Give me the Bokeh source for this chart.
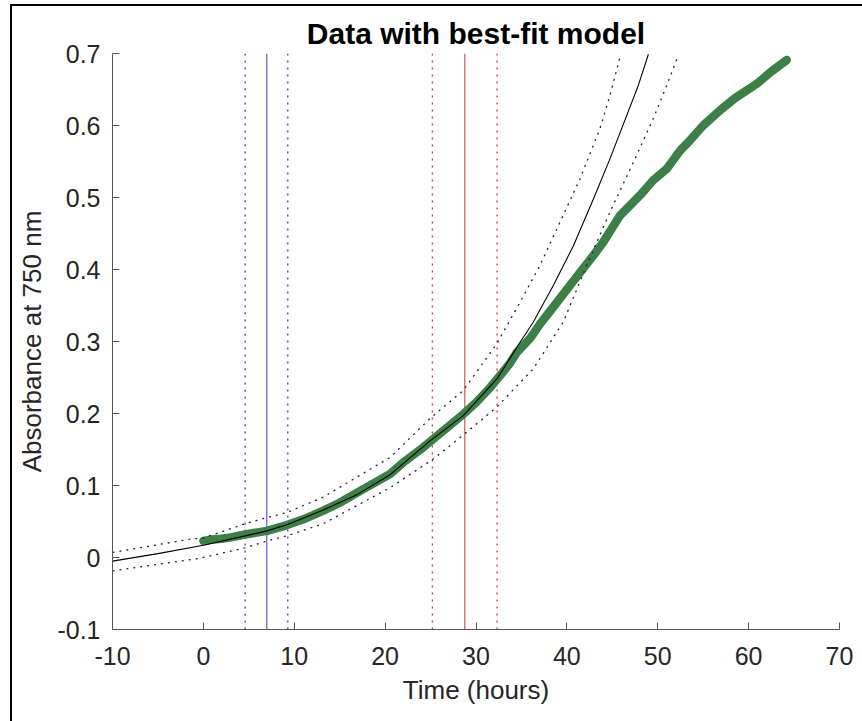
from bokeh.plotting import figure
from bokeh.models import FixedTicker, Range1d
from bokeh.embed import file_html
from bokeh.resources import INLINE

# ---- data ----
data_t = [0, 1, 2, 3, 4.6, 7, 9.2, 11, 13.2, 15, 17.6, 20.55, 22, 24.2, 26, 28.6, 30,
          31.55, 33, 33.75, 34.5, 36, 37.05, 38.15, 40.35, 42.92, 44, 45.85, 48.05,
          49.5, 51, 52.45, 53.37, 55, 56.85, 58.5, 60.9, 62.5, 64.2]
data_abs = [0.023, 0.025, 0.026, 0.028, 0.032, 0.037, 0.045, 0.053, 0.065, 0.076, 0.095,
            0.116, 0.132, 0.153, 0.172, 0.199, 0.215, 0.236, 0.258, 0.27, 0.285, 0.305,
            0.3245, 0.342, 0.378, 0.4195, 0.438, 0.475, 0.503, 0.524, 0.54, 0.565, 0.577,
            0.6, 0.621, 0.638, 0.658, 0.675, 0.691]

model_t = [-10, -5, 0, 4.6, 7, 9.2, 13.2, 17, 20.55, 24.95, 28.6, 32.3, 34.85, 36.31,
           38.52, 40.72, 42.92, 44.75, 46.59, 47.87, 48.97]
model_abs = [-0.005, 0.0054, 0.017, 0.030, 0.037, 0.0455, 0.066, 0.088, 0.115, 0.162,
             0.197, 0.248, 0.299, 0.327, 0.378, 0.433, 0.498, 0.554, 0.614, 0.656, 0.699]

upper_t = [-10, -1.45, 0, 4.6, 7, 9.2, 13.2, 20.55, 25.1, 28.6, 32.3, 35.04, 37.05,
           39.25, 41.45, 43.65, 44.75, 45.85]
upper_abs = [0.007, 0.0255, 0.027, 0.047, 0.0555, 0.0625, 0.084, 0.139, 0.195, 0.232,
             0.297, 0.359, 0.406, 0.466, 0.526, 0.596, 0.642, 0.695]

lower_t = [-10, -0.35, 4.6, 7, 9.2, 13.2, 20.55, 25.1, 28.6, 32.3, 34.85, 36.3, 39.6,
           42.19, 44.75, 47.32, 49.52, 51.0, 52.27]
lower_abs = [-0.0186, -0.001, 0.0135, 0.023, 0.030, 0.047, 0.097, 0.135, 0.17, 0.209,
             0.243, 0.262, 0.327, 0.406, 0.48, 0.549, 0.61, 0.656, 0.698]

blue_solid = [6.98]
blue_dotted = [4.6, 9.29]
red_solid = [28.77]
red_dotted = [25.2, 32.32]

x_ticks = [-10, 0, 10, 20, 30, 40, 50, 60, 70]
x_tick_labels = ["-10", "0", "10", "20", "30", "40", "50", "60", "70"]
y_ticks = [-0.1, 0, 0.1, 0.2, 0.3, 0.4, 0.5, 0.6, 0.7]
y_tick_labels = ["-0.1", "0", "0.1", "0.2", "0.3", "0.4", "0.5", "0.6", "0.7"]

x_lim = (-10, 70)
y_lim = (-0.1, 0.7)

FONT = "Liberation Sans"

p = figure(width=862, height=721, output_backend="svg", toolbar_location=None,
           x_range=Range1d(*x_lim), y_range=Range1d(*y_lim),
           title="Data with best-fit model",
           min_border_left=112, min_border_right=23, min_border_top=53,
           min_border_bottom=92)

p.styles = {
    "background-image": "linear-gradient(#000,#000), linear-gradient(#000,#000)",
    "background-size": "2px 100%, 100% 2px",
    "background-position": "10px 4px, 10px 4px",
    "background-repeat": "no-repeat",
}
p.border_fill_alpha = 0
p.background_fill_color = "white"
p.outline_line_color = None
p.grid.visible = False

p.title.text_font = FONT
p.title.text_font_size = "30px"
p.title.text_font_style = "bold"
p.title.text_color = "black"
p.title.align = "center"
p.title.standoff = 7

DOT = "2 5"

# vertical marker lines
def vlines(xs, color, dash, width):
    p.segment(x0=xs, x1=xs, y0=[y_lim[0]] * len(xs), y1=[y_lim[1]] * len(xs),
              line_color=color, line_width=width, line_dash=dash)

vlines(blue_dotted, "#3a3ac0", DOT, 1.3)
vlines(blue_solid, "#3a3ac0", "solid", 1)
vlines(red_dotted, "#c83a2a", DOT, 1.3)
vlines(red_solid, "#c83a2a", "solid", 1)

# data
p.line(data_t, data_abs, line_color="#3c7f47", line_width=8.5,
       line_cap="round", line_join="round")

# model and bounds
p.line(model_t, model_abs, line_color="black", line_width=1.1)
p.line(upper_t, upper_abs, line_color="#222222", line_width=1.3, line_dash=DOT)
p.line(lower_t, lower_abs, line_color="#222222", line_width=1.3, line_dash=DOT)

for ax, ticks, labels in ((p.xaxis[0], x_ticks, x_tick_labels),
                          (p.yaxis[0], y_ticks, y_tick_labels)):
    ax.ticker = FixedTicker(ticks=ticks)
    ax.major_label_overrides = {t: l for t, l in zip(ticks, labels)}
    ax.minor_tick_line_color = None
    ax.major_tick_in = 7
    ax.major_tick_out = 0
    ax.axis_line_color = "#555555"
    ax.major_tick_line_color = "#555555"
    ax.major_label_text_font = FONT
    ax.major_label_text_font_size = "25px"
    ax.major_label_text_color = "#262626"
    ax.axis_label_text_font = FONT
    ax.axis_label_text_font_size = "26px"
    ax.axis_label_text_font_style = "normal"
    ax.axis_label_text_color = "#262626"

p.xaxis.axis_label = "Time (hours)"
p.yaxis.axis_label = "Absorbance at 750 nm"
p.xaxis.major_label_standoff = 17
p.xaxis.axis_label_standoff = 7
p.yaxis.major_label_standoff = 12
p.yaxis.axis_label_standoff = 7

open("out.html", "w").write(file_html(p, INLINE))
